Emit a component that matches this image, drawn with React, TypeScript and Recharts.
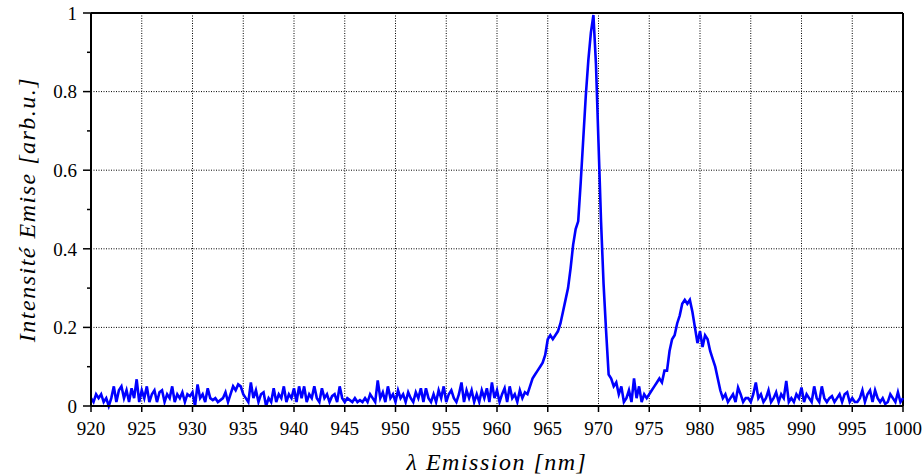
import React from 'react';
import {
  LineChart,
  Line,
  XAxis,
  YAxis,
  CartesianGrid,
  ReferenceLine,
  Label,
} from 'recharts';

const WL_START = 920;
const WL_STEP = 0.25;

const intensity = [
  0.02, 0.01, 0.03, 0.02, // 920
  0.03, 0.01, 0.02, 0.0,
  0.02, 0.05, 0.01, 0.04,
  0.05, 0.02, 0.04, 0.01,
  0.045, 0.02, 0.068, 0.01,
  0.04, 0.02, 0.05, 0.01, // 925
  0.03, 0.04, 0.01, 0.035,
  0.04, 0.01, 0.03, 0.02,
  0.05, 0.01, 0.03, 0.02,
  0.035, 0.01, 0.03, 0.025,
  0.035, 0.0, 0.055, 0.02, // 930
  0.03, 0.01, 0.045, 0.02,
  0.015, 0.02, 0.01, 0.015,
  0.02, 0.035, 0.01, 0.03,
  0.05, 0.04, 0.055, 0.05,
  0.03, 0.02, 0.01, 0.06, // 935
  0.02, 0.04, 0.01, 0.03,
  0.035, 0.0, 0.02, 0.01,
  0.045, 0.01, 0.03, 0.02,
  0.05, 0.01, 0.03, 0.02,
  0.045, 0.01, 0.05, 0.02, // 940
  0.05, 0.01, 0.03, 0.02,
  0.05, 0.02, 0.01, 0.045,
  0.02, 0.03, 0.01, 0.025,
  0.03, 0.01, 0.05, 0.02,
  0.01, 0.02, 0.015, 0.01, // 945
  0.02, 0.01, 0.015, 0.01,
  0.02, 0.01, 0.03, 0.02,
  0.01, 0.065, 0.02, 0.035,
  0.01, 0.05, 0.02, 0.03,
  0.01, 0.04, 0.02, 0.03, // 950
  0.01, 0.035, 0.02, 0.01,
  0.035, 0.02, 0.045, 0.01,
  0.045, 0.02, 0.01, 0.03,
  0.01, 0.04, 0.02, 0.05,
  0.01, 0.03, 0.04, 0.02, // 955
  0.01, 0.03, 0.06, 0.01,
  0.04, 0.02, 0.04, 0.01,
  0.03, 0.01, 0.04, 0.02,
  0.045, 0.01, 0.06, 0.02,
  0.04, 0.01, 0.03, 0.045, // 960
  0.01, 0.05, 0.02, 0.03,
  0.01, 0.04, 0.02, 0.035,
  0.03, 0.05, 0.07, 0.08,
  0.09, 0.1, 0.11, 0.13,
  0.17, 0.18, 0.17, 0.18, // 965
  0.19, 0.21, 0.24, 0.27,
  0.3, 0.35, 0.41, 0.45,
  0.47, 0.57, 0.68, 0.79,
  0.88, 0.95, 0.995, 0.87,
  0.67, 0.47, 0.31, 0.19, // 970
  0.08, 0.07, 0.05, 0.06,
  0.03, 0.05, 0.01, 0.02,
  0.04, 0.01, 0.07, 0.02,
  0.05, 0.01, 0.03, 0.02,
  0.03, 0.04, 0.05, 0.06, // 975
  0.07, 0.06, 0.09, 0.09,
  0.14, 0.17, 0.18, 0.21,
  0.23, 0.26, 0.27, 0.26,
  0.27, 0.24, 0.2, 0.16,
  0.19, 0.15, 0.18, 0.17, // 980
  0.14, 0.12, 0.1, 0.07,
  0.04, 0.02, 0.03, 0.01,
  0.02, 0.03, 0.01, 0.047,
  0.03, 0.01, 0.02, 0.02,
  0.01, 0.03, 0.06, 0.02, // 985
  0.03, 0.01, 0.02, 0.04,
  0.01, 0.02, 0.035, 0.01,
  0.03, 0.02, 0.064, 0.01,
  0.02, 0.01, 0.03, 0.02,
  0.047, 0.01, 0.03, 0.02, // 990
  0.01, 0.05, 0.02, 0.01,
  0.05, 0.02, 0.01, 0.02,
  0.025, 0.01, 0.02, 0.03,
  0.01, 0.03, 0.035, 0.01,
  0.02, 0.01, 0.01, 0.02, // 995
  0.04, 0.01, 0.03, 0.04,
  0.01, 0.04, 0.02, 0.01,
  0.02, 0.005, 0.01, 0.03,
  0.02, 0.01, 0.035, 0.01,
  0.02, // 1000
];

const xTicks = [920, 925, 930, 935, 940, 945, 950, 955, 960, 965, 970, 975, 980, 985, 990, 995, 1000];
const yTicks = [0, 0.1, 0.2, 0.3, 0.4, 0.5, 0.6, 0.7, 0.8, 0.9, 1];
const yGrid = [0.2, 0.4, 0.6, 0.8];

const FONT = 'Liberation Serif';

const data = intensity.map((v, i) => ({ wl: WL_START + i * WL_STEP, intensity: v }));

// Y ticks: labelled major ticks every 0.2, short minor ticks in between
const YTick = (props: any) => {
  const { x, y, payload } = props;
  const v = payload.value;
  const major = Math.round(v * 10) % 2 === 0;
  const axisX = x + 14;
  return (
    <g>
      <line x1={axisX - (major ? 8 : 4)} x2={axisX} y1={y} y2={y} stroke="#000" strokeWidth={1.5} />
      {major && (
        <text x={x} y={y} dy="0.355em" textAnchor="end" fill="#000" style={{ fontSize: 19, fontFamily: FONT }}>
          {Math.round(v * 10) / 10}
        </text>
      )}
    </g>
  );
};

const XTick = (props: any) => {
  const { x, y, payload } = props;
  return (
    <text x={x} y={y} dy="0.71em" textAnchor="middle" fill="#000" style={{ fontSize: 19, fontFamily: FONT }}>
      {payload.value}
    </text>
  );
};

const YTitle = (props: any) => {
  const vb = props.viewBox;
  const cx = vb.x + 27;
  const cy = vb.y + vb.height / 2;
  return (
    <text
      x={cx}
      y={cy}
      transform={`rotate(-90 ${cx} ${cy})`}
      textAnchor="middle"
      dominantBaseline="central"
      fill="#000"
      style={{ fontSize: 24, fontStyle: 'italic', letterSpacing: 1.5, fontFamily: FONT }}
    >
      Intensité Emise [arb.u.]
    </text>
  );
};

const XTitle = (props: any) => {
  const vb = props.viewBox;
  const cx = vb.x + vb.width / 2;
  return (
    <text
      x={cx}
      y={vb.y + 64}
      textAnchor="middle"
      fill="#000"
      style={{ fontSize: 24, fontStyle: 'italic', letterSpacing: 1.5, fontFamily: FONT }}
    >
      λ Emission [nm]
    </text>
  );
};

export default function App() {
  return (
    <div style={{ position: 'absolute', left: 0, top: 0, width: 924, height: 476, background: '#fff', fontFamily: FONT }}>
      <LineChart width={924} height={476} data={data} margin={{ top: 13, right: 21, left: 0, bottom: 0 }}>
        <CartesianGrid
          stroke="#000"
          strokeDasharray="1 1.5"
          horizontalValues={yGrid}
          verticalValues={xTicks}
        />
        <XAxis
          dataKey="wl"
          type="number"
          domain={[920, 1000]}
          ticks={xTicks}
          interval={0}
          height={70}
          tickSize={6}
          tickMargin={10}
          axisLine={{ stroke: '#000', strokeWidth: 2 }}
          tickLine={{ stroke: '#000', strokeWidth: 1.5 }}
          tick={<XTick />}
        >
          <Label content={<XTitle />} />
        </XAxis>
        <YAxis
          type="number"
          domain={[0, 1]}
          ticks={yTicks}
          interval={0}
          width={91}
          tickSize={8}
          tickMargin={6}
          axisLine={{ stroke: '#000', strokeWidth: 2 }}
          tickLine={false}
          tick={<YTick />}
        >
          <Label content={<YTitle />} />
        </YAxis>
        <ReferenceLine y={1} stroke="#000" strokeWidth={2} />
        <ReferenceLine x={1000} stroke="#000" strokeWidth={2} />
        <Line
          type="linear"
          dataKey="intensity"
          stroke="#0000ff"
          strokeWidth={2.6}
          dot={false}
          isAnimationActive={false}
        />
      </LineChart>
    </div>
  );
}
